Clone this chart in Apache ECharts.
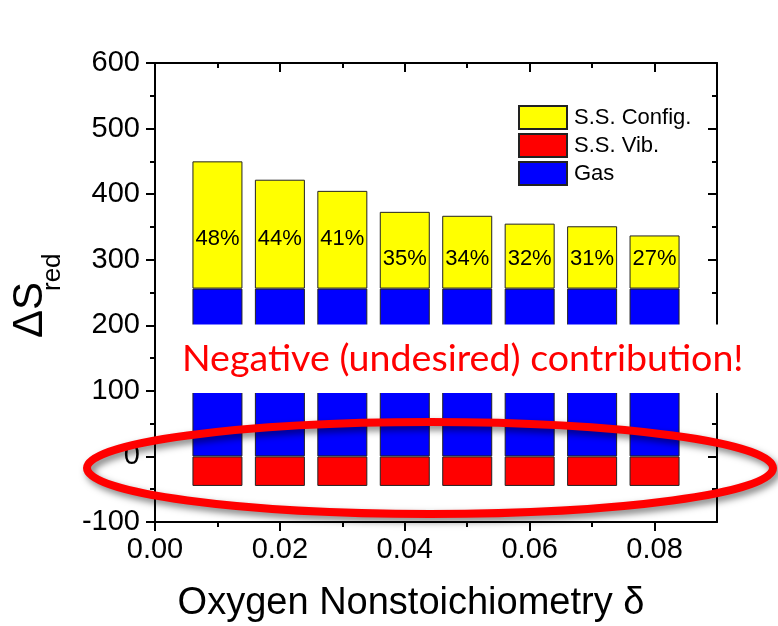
<!DOCTYPE html>
<html>
<head>
<meta charset="utf-8">
<script src="https://cdn.jsdelivr.net/npm/echarts@6/dist/echarts.min.js"></script>
<style>
  html, body { margin: 0; padding: 0; background: #fff; }
  #main { width: 778px; height: 626px; }
</style>
</head>
<body>
<div id="main"></div>
<script>
// x positions of the axis, 0.00 .. 0.09 (bars sit on 0.01 .. 0.08)
const xCategories = ['0.00', '0.01', '0.02', '0.03', '0.04', '0.05', '0.06', '0.07', '0.08', '0.09'];
const deltas = ['0.01', '0.02', '0.03', '0.04', '0.05', '0.06', '0.07', '0.08'];
// entropy contributions
const gasVals = [256, 256, 256, 256, 256, 256, 256, 256];
const configVals = [194, 166, 149, 117, 111, 99, 95, 81];
const vibVals = [-45, -45, -45, -45, -45, -45, -45, -45];
const configPct = ['48%', '44%', '41%', '35%', '34%', '32%', '31%', '27%'];
// axis ticks
const xMajorTicks = [0, 0.02, 0.04, 0.06, 0.08];
const xMinorTicks = [0.01, 0.03, 0.05, 0.07];

const FONT = 'Liberation Sans, Arial, sans-serif';
const black = '#000';

var myChart = echarts.init(document.getElementById('main'));

// spread a series over the category list, empty where there is no bar
function onCategories(vals) {
  return xCategories.map(function (c) {
    var i = deltas.indexOf(c);
    return i < 0 ? null : vals[i];
  });
}

// x axes: bottom / top, major ticks + a second overlay for minor ticks
function xAxisDef(pos, major, inside) {
  return {
    type: 'value',
    position: pos,
    min: 0,
    max: 0.09,
    axisLine: { show: major, onZero: false, lineStyle: { color: black, width: 2 } },
    axisTick: {
      show: true,
      inside: inside,
      length: major ? 9 : 5,
      customValues: major ? xMajorTicks : xMinorTicks,
      lineStyle: { color: black, width: 2 }
    },
    axisLabel: {
      show: major && pos === 'bottom',
      customValues: xMajorTicks,
      margin: 13,
      color: black,
      fontFamily: FONT,
      fontSize: 29,
      formatter: function (v) { return v.toFixed(2); }
    },
    splitLine: { show: false }
  };
}

function yAxisDef(pos, inside) {
  return {
    type: 'value',
    position: pos,
    min: -100,
    max: 600,
    interval: 100,
    axisLine: { show: true, onZero: false, lineStyle: { color: black, width: 2 } },
    axisTick: { inside: inside, length: 9, lineStyle: { color: black, width: 2 } },
    minorTick: { show: true, splitNumber: 2, length: 5, lineStyle: { color: black, width: 2 } },
    axisLabel: {
      show: pos === 'left',
      margin: 15,
      color: black,
      fontFamily: FONT,
      fontSize: 29
    },
    splitLine: { show: false }
  };
}

var barStyle = function (color) {
  return { color: color, borderColor: '#222', borderWidth: 1 };
};

var option = {
  animation: false,
  backgroundColor: '#fff',
  grid: { left: 155, right: 61, top: 63, bottom: 104 },
  legend: {
    data: ['S.S. Config.', 'S.S. Vib.', 'Gas'],
    orient: 'vertical',
    left: 518,
    top: 105,
    padding: 0,
    itemWidth: 48,
    itemHeight: 23,
    itemGap: 3,
    icon: 'rect',
    selectedMode: false,
    textStyle: { color: black, fontFamily: FONT, fontSize: 22, padding: [0, 0, 0, 2] }
  },
  xAxis: [
    // hidden category axis that carries the bars
    {
      type: 'category',
      data: xCategories,
      boundaryGap: false,
      position: 'bottom',
      axisLine: { show: false },
      axisTick: { show: false },
      axisLabel: { show: false },
      splitLine: { show: false }
    },
    xAxisDef('bottom', true, false),
    xAxisDef('top', true, true),
    xAxisDef('bottom', false, false),
    xAxisDef('top', false, true)
  ],
  yAxis: [
    yAxisDef('left', false),
    yAxisDef('right', true)
  ],
  series: [
    {
      name: 'Gas',
      type: 'bar',
      stack: 'dS',
      barWidth: 50,
      itemStyle: barStyle('#0000ff'),
      data: onCategories(gasVals)
    },
    {
      name: 'S.S. Config.',
      type: 'bar',
      stack: 'dS',
      barWidth: 50,
      itemStyle: barStyle('#ffff00'),
      label: {
        show: true,
        position: 'insideBottom',
        color: black,
        fontFamily: FONT,
        fontSize: 22,
        formatter: function (p) { return configPct[deltas.indexOf(p.name)]; }
      },
      // first three labels sit higher in the original figure
      data: onCategories(configVals).map(function (v, k) {
        var i = deltas.indexOf(xCategories[k]);
        return v === null ? null : { value: v, label: { distance: i < 3 ? 39 : 19 } };
      })
    },
    {
      name: 'S.S. Vib.',
      type: 'bar',
      stack: 'dS',
      barWidth: 50,
      itemStyle: barStyle('#ff0000'),
      data: onCategories(vibVals)
    }
  ],
  graphic: [
    // y axis title: ΔS with subscript "red"
    {
      type: 'text', x: 51, y: 338, rotation: Math.PI / 2, z: 100,
      style: { text: 'ΔS', fill: black, fontFamily: FONT, fontSize: 42, align: 'left', verticalAlign: 'bottom' }
    },
    {
      type: 'text', x: 66, y: 291, rotation: Math.PI / 2, z: 100,
      style: { text: 'red', fill: black, fontFamily: FONT, fontSize: 26, align: 'left', verticalAlign: 'bottom' }
    },
    // x axis title
    {
      type: 'text', x: 411, y: 604, z: 100,
      style: { text: 'Oxygen Nonstoichiometry δ', fill: black, fontFamily: FONT, fontSize: 38, align: 'center', verticalAlign: 'middle' }
    },
    // white band with annotation
    {
      type: 'rect', z: 90,
      shape: { x: 157, y: 324.5, width: 600, height: 68.5 },
      style: { fill: '#fff' }
    },
    {
      type: 'text', x: 182, y: 359, z: 95,
      style: { text: 'Negative (undesired) contribution!', fill: '#ff0000', fontFamily: 'Lato, Open Sans, sans-serif', fontSize: 37.6, align: 'left', verticalAlign: 'middle' }
    },
    // red ellipse highlight
    {
      type: 'ellipse', z: 100,
      shape: { cx: 430, cy: 468, rx: 343, ry: 46 },
      style: {
        fill: 'none', stroke: '#ff0000', lineWidth: 8,
        shadowBlur: 7, shadowColor: 'rgba(0,0,0,0.5)', shadowOffsetX: 3, shadowOffsetY: 4
      }
    }
  ]
};

myChart.setOption(option);
</script>
</body>
</html>
